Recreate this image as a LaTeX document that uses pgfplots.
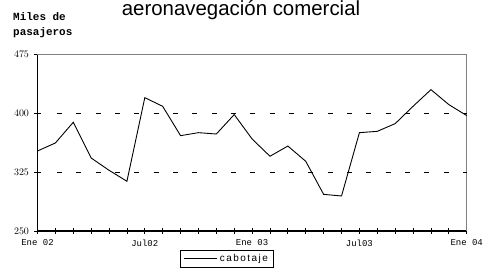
\documentclass[border=0pt]{standalone}
\usepackage{pgfplots}
\pgfplotsset{compat=1.18}
\usepackage{fontspec}
\setmainfont{Liberation Sans}
\newfontfamily\monofont{Liberation Mono}
\begin{document}
\begin{tikzpicture}[x=1bp,y=1bp]
\begin{axis}[
  scale only axis, width=429.2bp, height=177bp,
  xmin=0, xmax=24, ymin=250, ymax=475,
  axis lines*=left,
  axis line style={line width=1.1pt, black},
  xtick={0,...,24},
  xticklabels={Ene 02,,,,,,Jul02,,,,,,Ene 03,,,,,,Jul03,,,,,,Ene 04},
  ytick={250,325,400,475},
  tick align=center,
  major tick length=6bp,
  tick style={black, line width=0.8pt},
  x tick label style={font=\monofont\fontsize{9}{9}\selectfont, yshift=-2bp},
  y tick label style={font=\monofont\fontsize{10}{10}\selectfont, xshift=-2bp},
  clip=false,
  legend style={at={(0.4415,0)}, anchor=north, yshift=-19bp,
    draw=black, line width=0.5pt,
    font=\addfontfeature{LetterSpace=15}\fontsize{10}{11}\selectfont,
    legend cell align=left, inner xsep=3.5bp, inner ysep=2bp},
  legend image code/.code={\draw[#1] (0,0) -- (33bp,0);},
]
\coordinate (O) at (rel axis cs:0,0);
\draw[gray, line width=0.6pt] (rel axis cs:0,1) -- (rel axis cs:1,1) -- (rel axis cs:1,0);
\draw[black, line width=0.6pt, dash pattern=on 5bp off 14.33bp, dash phase=5bp] (axis cs:0.29,400) -- (axis cs:24,400);
\draw[black, line width=0.6pt, dash pattern=on 5bp off 14.33bp, dash phase=5bp] (axis cs:0.29,325) -- (axis cs:24,325);
\addplot[black, line width=0.9pt] coordinates {
(0,351.7) (1,361.9) (2,388.2) (3,342.8) (4,327.2) (5,313.2)
(6,419.5) (7,408.5) (8,371.2) (9,375) (10,373.3) (11,398)
(12,367) (13,345) (14,358) (15,338.6) (16,296.6) (17,294.5)
(18,375) (19,376.7) (20,386.5) (21,408.5) (22,429.7) (23,410.7) (24,396.7)
};
\addlegendentry{cabotaje}
\end{axis}
\begin{scope}[shift={(O)}]
\node[anchor=base, inner sep=0pt, font=\fontsize{20.5}{22}\selectfont] at (203.5,216) {aeronavegación comercial};
\node[anchor=base west, inner sep=0pt, font=\monofont\bfseries\fontsize{11}{12}\selectfont] at (-24.5,210.3) {Miles de};
\node[anchor=base west, inner sep=0pt, font=\monofont\bfseries\fontsize{11}{12}\selectfont] at (-24.5,196) {pasajeros};
\end{scope}
\pgfresetboundingbox
\path[use as bounding box, shift={(O)}] (-37.5,-40) rectangle (447.5,231);
\end{tikzpicture}
\end{document}
